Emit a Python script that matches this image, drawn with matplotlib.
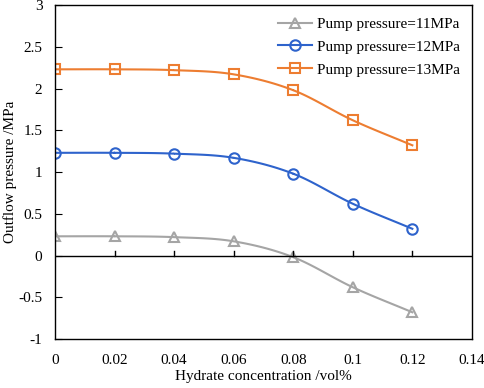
import numpy as np
import matplotlib.pyplot as plt

plt.rcParams['font.family'] = ['Liberation Serif', 'DejaVu Serif']

conc = [0, 0.02, 0.04, 0.06, 0.08, 0.10, 0.12]
p11 = [0.23, 0.23, 0.22, 0.17, -0.02, -0.38, -0.68]
p12 = [1.23, 1.23, 1.22, 1.17, 0.98, 0.62, 0.32]
p13 = [2.23, 2.23, 2.22, 2.17, 1.98, 1.62, 1.32]
labels = ['Pump pressure=11MPa', 'Pump pressure=12MPa', 'Pump pressure=13MPa']
x_ticks = [0, 0.02, 0.04, 0.06, 0.08, 0.1, 0.12, 0.14]
x_ticklabels = ['0', '0.02', '0.04', '0.06', '0.08', '0.1', '0.12', '0.14']
y_ticks = [-1, -0.5, 0, 0.5, 1, 1.5, 2, 2.5, 3]
y_ticklabels = ['-1', '-0.5', '0', '0.5', '1', '1.5', '2', '2.5', '3']


def smooth(x, y, n=20):
    # Catmull-Rom style curve through the points, like a spreadsheet smoothed line
    x = np.asarray(x, float)
    y = np.asarray(y, float)
    px = np.concatenate([[2 * x[0] - x[1]], x, [2 * x[-1] - x[-2]]])
    py = np.concatenate([[2 * y[0] - y[1]], y, [2 * y[-1] - y[-2]]])
    xs, ys = [], []
    t = np.linspace(0, 1, n)
    for i in range(1, len(px) - 2):
        for arr, out in ((px, xs), (py, ys)):
            p0, p1, p2, p3 = arr[i - 1:i + 3]
            out.extend(0.5 * (2 * p1 + (-p0 + p2) * t
                              + (2 * p0 - 5 * p1 + 4 * p2 - p3) * t ** 2
                              + (-p0 + 3 * p1 - 3 * p2 + p3) * t ** 3))
    return xs, ys


fig = plt.figure(figsize=(4.84, 3.88), dpi=100)
ax = fig.add_axes([0.1136, 0.1263, 0.8614, 0.8607])

series = [(p11, '#A5A5A5', '^'), (p12, '#2E63CC', 'o'), (p13, '#ED7D31', 's')]
for (vals, color, mk), lab in zip(series, labels):
    sx, sy = smooth(conc, vals)
    ax.plot(sx, sy, color=color, linewidth=1.5)
    ax.plot(conc, vals, linestyle='none', marker=mk, markersize=7.5,
            markerfacecolor='none', markeredgecolor=color, markeredgewidth=1.5)
    ax.plot([], [], color=color, linewidth=1.5, marker=mk, markersize=7.5,
            markerfacecolor='none', markeredgewidth=1.5, label=lab)

ax.set_xlim(0, 0.14)
ax.set_ylim(-1, 3)
ax.axhline(0, color='black', linewidth=1.0)
for s in ax.spines.values():
    s.set_linewidth(1.0)

ax.set_xticks(x_ticks)
ax.set_xticklabels(x_ticklabels, fontsize=11)
ax.set_yticks(y_ticks)
ax.set_yticklabels(y_ticklabels, fontsize=11)
ax.tick_params(axis='y', direction='in', length=5, pad=9)
ax.tick_params(axis='x', length=0, pad=11)
# x ticks sit on the zero line, pointing up
for xv in x_ticks[1:-1]:
    ax.plot([xv, xv], [0, 0.05], color='black', linewidth=1.0)

ax.set_xlabel('Hydrate concentration /vol%', fontsize=11, labelpad=2)
ax.set_ylabel('Outflow pressure /MPa', fontsize=11)
ax.yaxis.set_label_coords(-0.092, 0.5)

ax.legend(loc='upper right', frameon=False, fontsize=11, handlelength=2.2,
          handletextpad=0.3, labelspacing=0.6, borderaxespad=0.4)

fig.savefig('out.png', dpi=100)
